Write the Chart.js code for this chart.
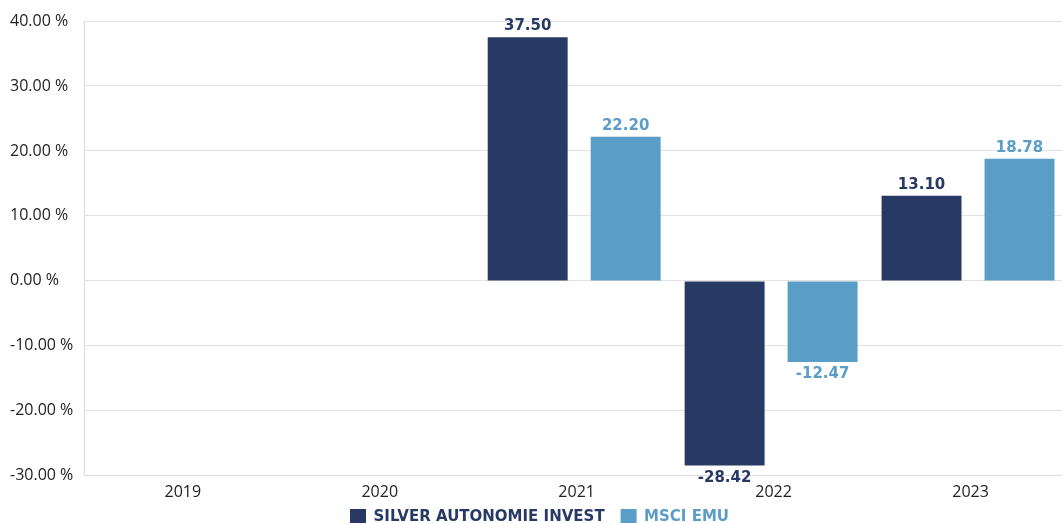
<!DOCTYPE html>
<html>
<head>
<meta charset="utf-8">
<script src="https://cdn.jsdelivr.net/npm/chart.js@4"></script>
<style>
  html, body { margin: 0; padding: 0; background: #fff; overflow: hidden; }
  #wrap { width: 1072px; height: 523px; }
</style>
</head>
<body>
<div id="wrap"><canvas id="perf"></canvas></div>
<script>
// yearly performance, in percent
const years = ["2019", "2020", "2021", "2022", "2023"];
const silverValues = [null, null, 37.50, -28.42, 13.10];
const msciValues = [null, null, 22.20, -12.47, 18.78];
const seriesNames = ["SILVER AUTONOMIE INVEST", "MSCI EMU"];
const seriesColors = ["#283a63", "#5a9dc7"];

// draws the value above (or below) each bar, in the bar colour
const valueLabels = {
  id: "valueLabels",
  afterDatasetsDraw(chart) {
    const ctx = chart.ctx;
    ctx.save();
    ctx.font = "bold 15px 'DejaVu Sans'";
    ctx.textAlign = "center";
    ctx.textBaseline = "alphabetic";
    chart.data.datasets.forEach((ds, i) => {
      chart.getDatasetMeta(i).data.forEach((bar, j) => {
        const v = ds.data[j];
        if (v === null) return;
        ctx.fillStyle = ds.backgroundColor;
        if (v >= 0) ctx.fillText(v.toFixed(2), bar.x, bar.y - 7);
        else ctx.fillText(v.toFixed(2), bar.x, bar.y + 16);
      });
    });
    ctx.restore();
  }
};

// legend sits tight under the axis labels, like the original
const tightLegend = {
  id: "tightLegend",
  beforeInit(chart) {
    const fit = chart.legend.fit;
    chart.legend.fit = function () {
      fit.bind(chart.legend)();
      this.height = 14;
    };
  },
  afterLayout(chart) {
    chart.legend.top -= 16;
  }
};

new Chart(document.getElementById("perf"), {
  type: "bar",
  data: {
    labels: years,
    datasets: [
      { label: seriesNames[0], data: silverValues, backgroundColor: seriesColors[0], barPercentage: 0.816 },
      { label: seriesNames[1], data: msciValues, backgroundColor: seriesColors[1], barPercentage: 0.714 }
    ]
  },
  options: {
    responsive: true,
    maintainAspectRatio: false,
    animation: false,
    layout: { padding: { top: 21, right: 3, left: 10, bottom: 0 } },
    datasets: { bar: { categoryPercentage: 0.995 } },
    plugins: {
      tooltip: { enabled: false },
      legend: {
        position: "bottom",
        labels: {
          boxWidth: 16,
          boxHeight: 16,
          padding: 16,
          font: { family: "'DejaVu Sans'", size: 15, weight: "bold" },
          generateLabels(chart) {
            return chart.data.datasets.map((ds, i) => ({
              text: ds.label,
              fillStyle: ds.backgroundColor,
              strokeStyle: ds.backgroundColor,
              fontColor: ds.backgroundColor,
              lineWidth: 0,
              datasetIndex: i
            }));
          }
        }
      }
    },
    scales: {
      x: {
        grid: { display: false, drawTicks: false },
        border: { color: "#dcdcdc", display: true },
        ticks: { color: "#222", padding: 7, font: { family: "'Open Sans'", size: 16 } }
      },
      y: {
        min: -30,
        max: 40,
        grid: { color: "#e2e2e2", drawTicks: false },
        border: { color: "#dcdcdc" },
        ticks: {
          stepSize: 10,
          color: "#222",
          padding: 5.5,
          crossAlign: "far",
          font: { family: "'Open Sans'", size: 16 },
          callback: v => v.toFixed(2) + " %"
        }
      }
    }
  },
  plugins: [valueLabels, tightLegend]
});
</script>
</body>
</html>
